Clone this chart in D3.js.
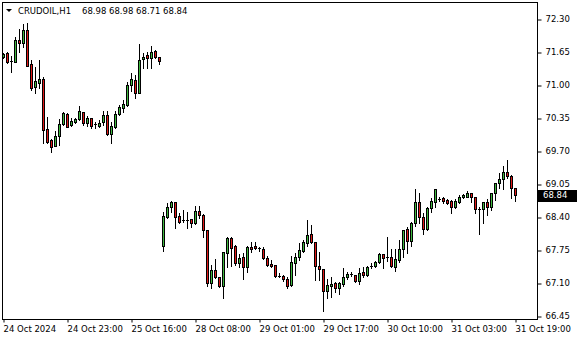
<!DOCTYPE html>
<html><head><meta charset="utf-8">
<script src="https://cdn.jsdelivr.net/npm/d3@7/dist/d3.min.js"></script>
<style>
html,body{margin:0;padding:0;background:#fff;}
svg{display:block;}
text{font-family:"DejaVu Sans",sans-serif;}
</style></head>
<body><svg id="chart" width="580" height="340"></svg>
<script>
const symbol = "CRUDOIL,H1";
const lastQuote = ["68.98", "68.98", "68.71", "68.84"];
const lastPrice = 68.84;

const open = [71.55,71.63,71.47,71.45,71.89,71.83,72.08,71.41,70.96,71.04,71.12,70.13,69.92,69.80,69.99,70.23,70.43,70.21,70.27,70.33,70.47,70.25,70.35,70.23,70.19,70.27,70.41,70.03,70.17,70.43,70.55,70.61,71.00,71.10,70.84,71.51,71.59,71.53,71.67,71.55,
67.83,68.40,68.60,68.70,68.42,68.34,68.35,68.36,68.28,68.52,68.44,68.14,67.10,67.36,67.22,67.04,67.69,67.99,67.83,67.49,67.61,67.42,67.81,67.83,67.79,67.77,67.59,67.47,67.45,67.24,67.24,67.18,67.06,67.49,67.61,67.73,67.89,68.07,67.91,67.43,67.38,66.94,67.04,67.10,67.00,67.08,67.22,67.28,67.26,67.14,67.32,67.26,67.43,67.43,67.51,67.67,67.61,67.61,67.42,67.55,67.77,68.16,67.93,68.28,68.70,68.40,68.16,68.58,68.70,68.75,68.77,68.73,68.71,68.60,68.70,68.79,68.79,68.87,68.79,68.56,68.56,68.70,68.60,68.87,69.07,69.15,69.29,69.21,68.98];
const high = [71.63,71.65,71.57,71.95,72.10,72.20,72.22,71.49,71.35,71.49,71.16,70.37,69.93,70.09,70.33,70.47,70.45,70.35,70.35,70.59,70.47,70.39,70.35,70.27,70.31,70.49,70.49,70.27,70.49,70.61,70.70,71.06,71.24,71.20,71.81,71.63,71.65,71.77,71.69,71.55,
68.50,68.68,68.71,68.70,68.48,68.54,68.50,68.36,68.62,68.62,68.46,68.14,67.45,67.57,67.22,67.71,68.01,68.01,67.85,67.67,67.69,67.83,67.91,67.91,67.81,67.81,67.63,67.55,67.45,67.30,67.26,67.22,67.63,67.69,67.89,67.95,68.34,68.24,67.91,67.71,67.38,67.18,67.22,67.12,67.12,67.40,67.32,67.32,67.26,67.40,67.42,67.43,67.49,67.53,67.69,67.67,68.01,67.77,67.77,67.95,68.14,68.20,68.30,68.95,68.87,68.48,68.60,68.77,68.95,68.79,68.79,68.75,68.73,68.75,68.83,68.85,68.91,68.87,68.79,68.60,68.70,68.75,68.87,69.07,69.27,69.40,69.52,69.23,68.98];
const low = [71.53,71.43,71.26,71.45,71.65,71.75,71.37,70.90,70.84,70.94,69.86,69.86,69.68,69.80,69.82,70.21,70.17,70.19,70.25,70.31,70.21,70.19,70.15,70.15,70.17,70.21,70.01,69.86,70.15,70.41,70.47,70.59,70.88,70.74,70.84,71.33,71.33,71.33,71.53,71.41,
67.73,68.38,68.50,68.18,68.28,68.30,68.18,68.20,68.26,68.38,68.01,67.04,67.00,67.20,67.02,66.80,67.42,67.43,67.45,67.42,67.18,67.32,67.71,67.77,67.73,67.57,67.43,67.42,67.22,67.22,67.14,67.00,67.04,67.26,67.55,67.71,67.83,67.89,67.16,67.16,66.55,66.80,66.82,66.92,66.88,67.04,67.18,67.24,67.12,67.08,67.22,67.24,67.40,67.42,67.49,67.40,67.53,67.42,67.34,67.51,67.61,67.69,67.83,68.22,68.28,68.07,68.14,68.50,68.60,68.71,68.68,68.66,68.48,68.58,68.68,68.77,68.79,68.70,68.48,68.07,68.28,68.44,68.54,68.73,68.97,68.95,69.17,68.77,68.71];
const close = [71.61,71.45,71.47,71.89,71.83,72.08,71.37,70.94,71.08,71.12,70.11,69.88,69.78,69.99,70.23,70.45,70.17,70.29,70.33,70.49,70.25,70.35,70.19,70.23,70.25,70.41,70.03,70.19,70.43,70.57,70.63,71.00,71.12,70.84,71.49,71.55,71.53,71.65,71.55,71.47,
68.42,68.60,68.70,68.40,68.30,68.34,68.35,68.28,68.52,68.44,68.14,67.10,67.36,67.22,67.04,67.71,67.99,67.79,67.49,67.59,67.42,67.81,67.77,67.79,67.79,67.59,67.45,67.43,67.24,67.24,67.18,67.04,67.51,67.61,67.75,67.91,68.05,67.91,67.43,67.38,66.94,67.06,67.08,67.00,67.10,67.22,67.28,67.28,67.14,67.30,67.26,67.42,67.43,67.51,67.67,67.59,67.61,67.43,67.57,67.77,68.14,67.93,68.28,68.70,68.40,68.16,68.58,68.71,68.95,68.75,68.71,68.68,68.60,68.71,68.79,68.83,68.87,68.79,68.56,68.56,68.70,68.60,68.87,69.07,69.15,69.29,69.21,68.97,68.84];

const timeTickIndex = [0,16,32,48,64,80,96,112,128];
const timeTickLabels = ["24 Oct 2024","24 Oct 23:00","25 Oct 16:00","28 Oct 08:00","29 Oct 01:00","29 Oct 17:00","30 Oct 10:00","31 Oct 03:00","31 Oct 19:00"];
const priceTicks = [72.30,71.65,71.00,70.35,69.70,69.05,68.40,67.75,67.10,66.45];

const bars = open.map((o,i)=>({i, o, h: high[i], l: low[i], c: close[i]}));

const svg = d3.select("#chart");
const L = 2, R = 537, T = 2, B = 319;
const x = d3.scaleLinear().domain([0, 128]).range([3, 515]);
const y = d3.scaleLinear().domain([66.45, 72.30]).range([316, 19]);

// frame
svg.append("rect").attr("x", L+0.5).attr("y", T+0.5).attr("width", R-L).attr("height", B-T)
  .attr("fill","#fff").attr("stroke","#000").attr("stroke-width",1);

// axes
const yAxis = d3.axisRight(y).tickValues(priceTicks).tickFormat(d3.format(".2f")).tickSize(4).tickPadding(4);
const ga = svg.append("g").attr("transform", `translate(${R+0.5},0)`).call(yAxis);
ga.select(".domain").remove();
ga.selectAll("text").attr("font-size","8.5px").attr("fill","#000").attr("font-family","DejaVu Sans");
ga.selectAll("line").attr("stroke","#000").attr("transform", d=>`translate(0,${Math.round(y(d))+0.5-y(d)})`);

const xAxis = d3.axisBottom(x).tickValues(timeTickIndex).tickFormat((d,k)=>timeTickLabels[k]).tickSize(3).tickPadding(3);
const gx = svg.append("g").attr("transform", `translate(0,${B+0.5})`).call(xAxis);
gx.select(".domain").remove();
gx.selectAll("line").attr("stroke","#000").attr("transform", d=>`translate(${Math.round(x(d))+0.5-x(d)},0)`);
gx.selectAll("text").attr("font-size","8.5px").attr("fill","#000").attr("text-anchor","start").attr("font-family","DejaVu Sans");

// candles
const gc = svg.append("g");
bars.forEach(b=>{
  const px = Math.round(x(b.i));
  const top = Math.round(y(Math.max(b.o,b.c)));
  const bot = Math.round(y(Math.min(b.o,b.c)));
  gc.append("line").attr("x1",px+0.5).attr("x2",px+0.5)
    .attr("y1",Math.round(y(b.h))).attr("y2",Math.round(y(b.l))+1)
    .attr("stroke","#000").attr("stroke-width",1);
  if (bot - top < 1) {
    gc.append("line").attr("x1",px-1).attr("x2",px+2).attr("y1",top+0.5).attr("y2",top+0.5)
      .attr("stroke","#000").attr("stroke-width",1);
  } else {
    gc.append("rect").attr("x",px-0.5).attr("y",top+0.5).attr("width",2).attr("height",bot-top)
      .attr("fill", b.c > b.o ? "#3fb83f" : "#e01818").attr("stroke","#000").attr("stroke-width",1);
  }
});

// last price label
const ly = y(lastPrice);
svg.append("rect").attr("x",R+1).attr("y",Math.round(ly)-5).attr("width",39).attr("height",12).attr("fill","#000");
svg.append("text").attr("x",R+6).attr("y",ly+1).attr("dominant-baseline","middle")
  .attr("font-size","8.5px").attr("fill","#fff").text(d3.format(".2f")(lastPrice));

// title
svg.append("path").attr("d","M6,9 L12,9 L9,12 Z").attr("fill","#000");
svg.append("text").attr("x",18).attr("y",14).attr("font-size","8.5px").attr("fill","#000").text(symbol);
svg.append("text").attr("x",82).attr("y",14).attr("font-size","8.5px").attr("fill","#000").text(lastQuote.join(" "));
</script></body></html>
